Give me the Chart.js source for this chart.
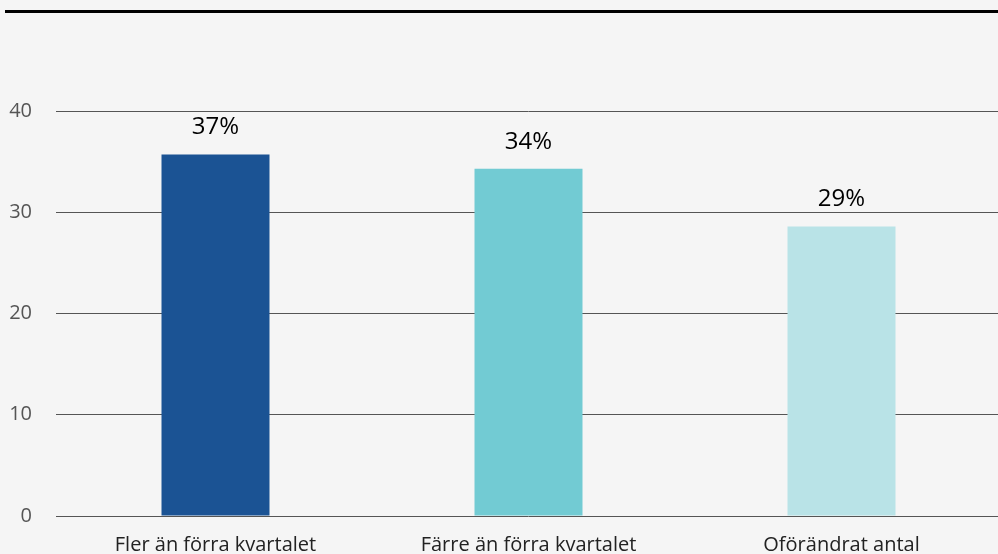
<!DOCTYPE html>
<html>
<head>
<meta charset="utf-8">
<script src="https://cdn.jsdelivr.net/npm/chart.js@4/dist/chart.umd.min.js"></script>
<style>
  body { margin: 0; background: #f5f5f5; }
  #wrap { width: 998px; height: 554px; }
</style>
</head>
<body>
<div id="wrap"><canvas id="grafico" width="998" height="554"></canvas></div>
<script>
// data
const kategorier = ['Fler än förra kvartalet', 'Färre än förra kvartalet', 'Oförändrat antal'];
const varden = [35.7, 34.3, 28.6];
const etiketter = ['37%', '34%', '29%'];
const farger = ['#1b5394', '#72cbd3', '#b9e3e7'];
const yTicks = [0, 10, 20, 30, 40];

// bakgrund + svart linje överst
const bakgrund = {
  id: 'bakgrund',
  beforeDraw(chart) {
    const c = chart.ctx;
    c.save();
    c.fillStyle = '#f5f5f5';
    c.fillRect(0, 0, chart.width, chart.height);
    c.fillStyle = '#000';
    c.fillRect(5, 10, chart.width - 5, 3);
    c.restore();
  }
};

// procent-etiketter ovanför staplarna
const etikettPlugin = {
  id: 'etiketter',
  afterDatasetsDraw(chart) {
    const c = chart.ctx;
    const meta = chart.getDatasetMeta(0);
    c.save();
    c.font = '24px "Open Sans"';
    c.fillStyle = '#000';
    c.textAlign = 'center';
    c.textBaseline = 'middle';
    meta.data.forEach((bar, i) => {
      c.fillText(etiketter[i], bar.x, bar.y - 27);
    });
    c.restore();
  }
};

new Chart(document.getElementById('grafico'), {
  type: 'bar',
  data: {
    labels: kategorier,
    datasets: [{
      data: varden,
      backgroundColor: farger,
      barPercentage: 0.345,
      categoryPercentage: 1
    }]
  },
  options: {
    responsive: false,
    animation: false,
    layout: { padding: { top: 111, right: 0, left: 0, bottom: 0 } },
    plugins: { legend: { display: false }, tooltip: { enabled: false } },
    scales: {
      x: {
        grid: { display: false },
        border: { display: false },
        ticks: { color: '#222', font: { family: 'Open Sans', size: 20 }, padding: 9, maxRotation: 0 },
        afterFit(scale) { scale.height = 38; }
      },
      y: {
        min: 0,
        max: 40,
        afterBuildTicks(scale) { scale.ticks = yTicks.map(v => ({ value: v })); },
        grid: { color: '#555', lineWidth: 1, drawTicks: true, tickLength: 3 },
        border: { display: false },
        ticks: { color: '#555', font: { family: 'Open Sans', size: 20 }, padding: 24 },
        afterFit(scale) { scale.width = 59; }
      }
    }
  },
  plugins: [bakgrund, etikettPlugin]
});
</script>
</body>
</html>
